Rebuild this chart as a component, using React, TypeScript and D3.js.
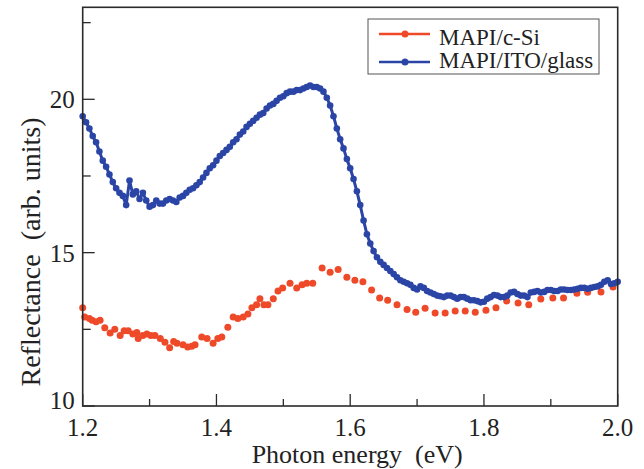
import React from "react";
import * as d3 from "d3";

// ---- data ----
const seriesNames = ["MAPI/c-Si", "MAPI/ITO/glass"];

const blueE = [
  1.2, 1.205, 1.21, 1.215, 1.22, 1.225, 1.23, 1.235, 1.24, 1.245, 1.25, 1.255, 1.26, 1.265, 1.27, 1.275,
  1.28, 1.285, 1.29, 1.295, 1.3, 1.305, 1.31, 1.315, 1.32, 1.325, 1.33, 1.335, 1.34, 1.345, 1.35, 1.355,
  1.36, 1.365, 1.37, 1.375, 1.38, 1.385, 1.39, 1.395, 1.4, 1.405, 1.41, 1.415, 1.42, 1.425, 1.43, 1.435,
  1.44, 1.445, 1.45, 1.455, 1.46, 1.465, 1.47, 1.475, 1.48, 1.485, 1.49, 1.495, 1.5, 1.505, 1.51, 1.515,
  1.52, 1.525, 1.53, 1.535, 1.54, 1.545, 1.55, 1.555, 1.56, 1.565, 1.57, 1.575, 1.58, 1.585, 1.59, 1.595,
  1.6, 1.605, 1.61, 1.615, 1.62, 1.625, 1.63, 1.635, 1.64, 1.645, 1.65, 1.655, 1.66, 1.665, 1.67, 1.675,
  1.68, 1.685, 1.69, 1.695, 1.7, 1.705, 1.71, 1.715, 1.72, 1.725, 1.73, 1.735, 1.74, 1.745, 1.75, 1.755,
  1.76, 1.765, 1.77, 1.775, 1.78, 1.785, 1.79, 1.795, 1.8, 1.805, 1.81, 1.815, 1.82, 1.825, 1.83, 1.835,
  1.84, 1.845, 1.85, 1.855, 1.86, 1.865, 1.87, 1.875, 1.88, 1.885, 1.89, 1.895, 1.9, 1.905, 1.91, 1.915,
  1.92, 1.925, 1.93, 1.935, 1.94, 1.945, 1.95, 1.955, 1.96, 1.965, 1.97, 1.975, 1.98, 1.985, 1.99, 1.995,
  2.0,
];
const blueR = [
  19.45, 19.25, 19.05, 18.8, 18.6, 18.3, 18.0, 17.8, 17.55, 17.3, 17.1, 16.95, 16.85, 16.55, 17.35, 16.9,
  17.0, 16.75, 16.95, 16.7, 16.5, 16.55, 16.7, 16.6, 16.6, 16.7, 16.75, 16.7, 16.65, 16.8, 16.85, 16.95,
  17.05, 17.1, 17.2, 17.3, 17.45, 17.6, 17.75, 17.85, 18.0, 18.15, 18.25, 18.35, 18.45, 18.6, 18.7, 18.85,
  18.95, 19.1, 19.2, 19.3, 19.4, 19.5, 19.55, 19.7, 19.8, 19.85, 19.95, 20.05, 20.1, 20.2, 20.25, 20.25,
  20.3, 20.3, 20.35, 20.4, 20.45, 20.4, 20.4, 20.35, 20.25, 20.05, 19.8, 19.45, 19.05, 18.7, 18.4, 18.05,
  17.75, 17.4, 17.0, 16.55, 16.05, 15.6, 15.3, 15.05, 14.85, 14.7, 14.6, 14.5, 14.4, 14.3, 14.2, 14.1,
  14.05, 14.0, 13.95, 13.85, 13.8, 13.9, 13.85, 13.75, 13.7, 13.65, 13.6, 13.58, 13.55, 13.6, 13.6, 13.55,
  13.5, 13.55, 13.55, 13.5, 13.45, 13.45, 13.42, 13.38, 13.4, 13.5, 13.55, 13.62, 13.6, 13.55, 13.55, 13.6,
  13.7, 13.72, 13.65, 13.6, 13.6, 13.55, 13.7, 13.72, 13.75, 13.7, 13.72, 13.78, 13.78, 13.75, 13.75, 13.8,
  13.8, 13.78, 13.78, 13.8, 13.82, 13.85, 13.85, 13.82, 13.85, 13.88, 13.9, 13.95, 14.05, 14.1, 13.98, 14.0,
  14.05,
];

const redE = [
  1.2, 1.203, 1.21, 1.214, 1.22, 1.226, 1.233, 1.241, 1.248, 1.256, 1.262, 1.268, 1.275, 1.281, 1.283, 1.29,
  1.296, 1.302, 1.308, 1.316, 1.323, 1.33, 1.336, 1.341, 1.35, 1.357, 1.363, 1.368, 1.378, 1.386, 1.395, 1.402,
  1.408, 1.417, 1.425, 1.432, 1.44, 1.447, 1.453, 1.46, 1.465, 1.471, 1.477, 1.485, 1.492, 1.499, 1.51, 1.52,
  1.528, 1.535, 1.544, 1.558, 1.57, 1.582, 1.595, 1.607, 1.619, 1.632, 1.644, 1.656, 1.67, 1.685, 1.698, 1.712,
  1.727, 1.742, 1.757, 1.772, 1.787, 1.803, 1.818, 1.834, 1.851, 1.867, 1.885, 1.903, 1.919, 1.939, 1.955, 1.975,
  1.993,
];
const redR = [
  13.2, 12.9, 12.85, 12.8, 12.75, 12.8, 12.55, 12.38, 12.5, 12.3, 12.45, 12.45, 12.35, 12.4, 12.2, 12.3,
  12.35, 12.3, 12.3, 12.2, 12.08, 11.9, 12.1, 12.05, 12.0, 11.92, 11.95, 12.0, 12.25, 12.2, 12.05, 12.2,
  12.25, 12.57, 12.9, 12.85, 12.9, 13.0, 13.2, 13.3, 13.5, 13.3, 13.3, 13.5, 13.75, 13.85, 14.0, 13.85,
  13.95, 14.0, 14.0, 14.5, 14.36, 14.45, 14.2, 14.1, 14.05, 13.78, 13.52, 13.45, 13.3, 13.15, 13.06, 13.19,
  13.03, 13.03, 13.1, 13.1, 13.06, 13.12, 13.2, 13.42, 13.36, 13.3, 13.49, 13.52, 13.52, 13.68, 13.71, 13.72,
  13.88,
];

const xMajor = [1.2, 1.4, 1.6, 1.8, 2.0];
const xMinor = [1.3, 1.5, 1.7, 1.9];
const yMajor = [10, 15, 20];
const yMinor = [12.5, 17.5, 22.5];

const xTitle = "Photon energy\u00a0\u00a0(eV)";
const yTitle = "Reflectance\u00a0\u00a0(arb. units)";

// ---- layout ----
const W = 644;
const H = 469;
const L = 82.7, R = 617.7, T = 7.3, B = 406;
const RED = "#ee4a2a";
const BLUE = "#2b45a6";
const FONT = "'Liberation Serif', 'Times New Roman', serif";

export default function App() {
  const x = d3.scaleLinear().domain([1.2, 2.0]).range([L, R]);
  const y = d3.scaleLinear().domain([10, 23]).range([B, T]);

  const blue = blueE.map((e, i) => [e, blueR[i]] as [number, number]);
  const red = redE.map((e, i) => [e, redR[i]] as [number, number]);
  const line = d3
    .line<[number, number]>()
    .x((d) => x(d[0]))
    .y((d) => y(d[1]));

  const axisColor = "#2a2a2a";

  return (
    <svg
      width={W}
      height={H}
      style={{ position: "absolute", left: 0, top: 0, background: "#fff" }}
      fontFamily={FONT}
    >
      <rect x={0} y={0} width={W} height={H} fill="#fff" />
      {/* data */}
      <g>
        {red.map((d, i) => (
          <circle key={"r" + i} cx={x(d[0])} cy={y(d[1])} r={3.5} fill={RED} />
        ))}
        <path d={line(blue) || ""} fill="none" stroke={BLUE} strokeWidth={3} strokeLinejoin="round" />
        {blue.map((d, i) => (
          <circle key={"b" + i} cx={x(d[0])} cy={y(d[1])} r={3.3} fill={BLUE} />
        ))}
      </g>

      {/* frame */}
      <rect x={L} y={T} width={R - L} height={B - T} fill="none" stroke={axisColor} strokeWidth={1.6} />

      {/* x ticks */}
      {xMajor.map((v) => (
        <g key={"xm" + v}>
          <line x1={x(v)} x2={x(v)} y1={B} y2={B - 12} stroke={axisColor} strokeWidth={1.3} />
          <text x={x(v)} y={B + 30} textAnchor="middle" fontSize={25} fill="#222">
            {v.toFixed(1)}
          </text>
        </g>
      ))}
      {xMinor.map((v) => (
        <line key={"xn" + v} x1={x(v)} x2={x(v)} y1={B} y2={B - 7} stroke={axisColor} strokeWidth={1.3} />
      ))}

      {/* y ticks */}
      {yMajor.map((v) => (
        <g key={"ym" + v}>
          <line x1={L} x2={L + 12} y1={y(v)} y2={y(v)} stroke={axisColor} strokeWidth={1.3} />
          <text
            x={L - 8}
            y={y(v) + (v === 10 ? 3 : 9)}
            textAnchor="end"
            fontSize={25}
            fill="#222"
          >
            {v}
          </text>
        </g>
      ))}
      {yMinor.map((v) => (
        <line key={"yn" + v} x1={L} x2={L + 8} y1={y(v)} y2={y(v)} stroke={axisColor} strokeWidth={1.3} />
      ))}

      {/* titles */}
      <text x={(L + R) / 2 + 7} y={463} textAnchor="middle" fontSize={26} fill="#222">
        {xTitle}
      </text>
      <text
        transform={`translate(40, 252) rotate(-90)`}
        textAnchor="middle"
        fontSize={28}
        fill="#222"
      >
        {yTitle}
      </text>

      {/* legend */}
      <g>
        <rect x={368} y={19} width={231} height={55} fill="#fff" stroke="#555" strokeWidth={1} />
        {[RED, BLUE].map((c, i) => (
          <g key={"lg" + i}>
            <line x1={379} x2={430} y1={34 + i * 28} y2={34 + i * 28} stroke={c} strokeWidth={2.6} />
            <circle cx={405} cy={34 + i * 28} r={3.5} fill={c} />
            <text x={439} y={45 + i * 23} fontSize={23} fill="#222">
              {seriesNames[i]}
            </text>
          </g>
        ))}
      </g>
    </svg>
  );
}
